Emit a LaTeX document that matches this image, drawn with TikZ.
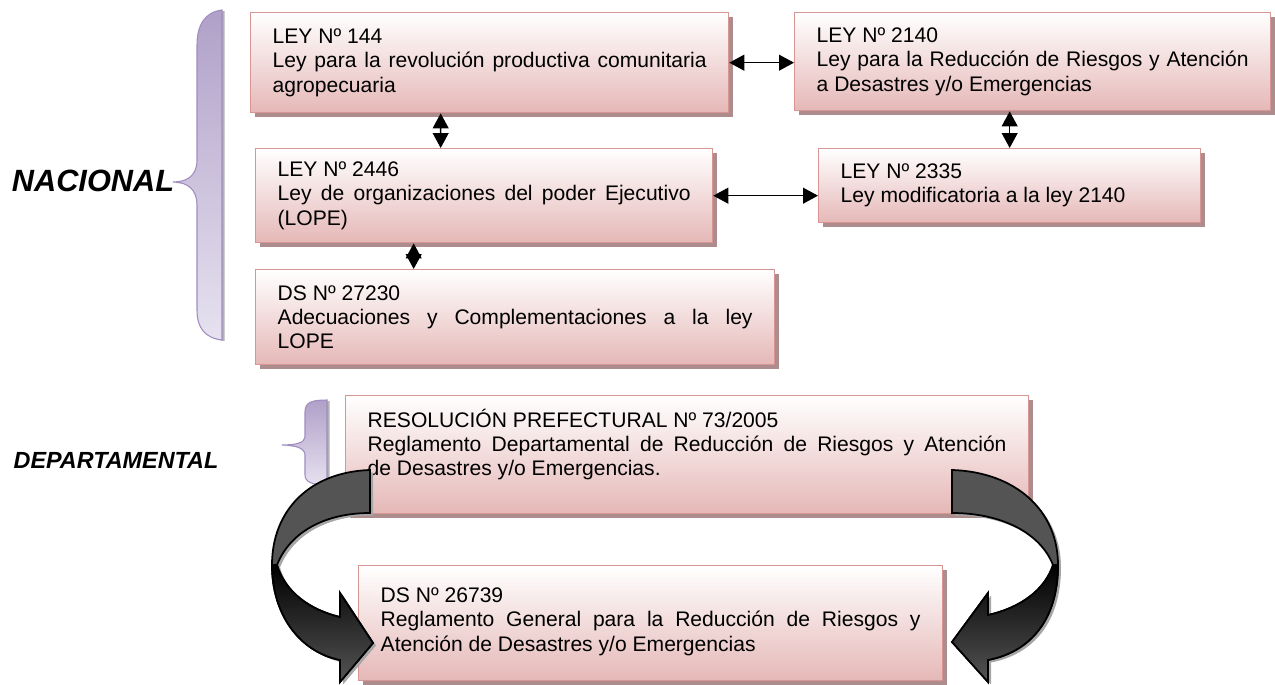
\documentclass[tikz,border=0pt]{standalone}
\usepackage{fontspec}
\setmainfont{Liberation Sans}
\usetikzlibrary{arrows.meta,shadows}
\hyphenpenalty=10000

\definecolor{boxline}{RGB}{217,149,148}
\definecolor{boxfill}{RGB}{229,184,183}
\definecolor{boxshadow}{RGB}{172,140,140}
\definecolor{bracetop}{RGB}{176,160,200}
\definecolor{bracebot}{RGB}{230,226,240}
\definecolor{braceline}{RGB}{160,140,192}
\definecolor{flowgray}{RGB}{84,84,84}

\tikzset{
  lawbox/.style={draw=boxline, line width=0.8pt, top color=white, bottom color=boxfill,
    drop shadow={shadow xshift=0.08cm, shadow yshift=-0.08cm, fill=boxshadow, opacity=1},
    anchor=north west, inner xsep=0.44cm, inner ysep=0.1cm, align=justify,
    font=\fontsize{12}{13.8}\selectfont},
  dbl/.style={<->, >={Triangle[length=8.5pt,width=9pt]}, line width=0.8pt},
  brace/.style={draw=braceline, line width=0.6pt, top color=bracetop, bottom color=bracebot,
    drop shadow={shadow xshift=0.05cm, shadow yshift=-0.02cm, fill=gray!60, opacity=1}},
  flow/.style={draw=black, line width=1pt, fill=flowgray,
    drop shadow={shadow xshift=0.06cm, shadow yshift=-0.05cm, fill=gray!70, opacity=1}},
  tier/.style={font=\fontsize{#1}{#1}\selectfont\bfseries\itshape}
}

\begin{document}
\begin{tikzpicture}[x=0.02cm, y=-0.02cm]
\useasboundingbox (0,0) rectangle (1275,685);

% national laws
\node[lawbox, text width=8.68cm, minimum height=2cm] (ley144) at (250,12)
  {LEY Nº 144\\Ley para la revolución productiva comunitaria agropecuaria};
\node[lawbox, text width=8.64cm, minimum height=1.96cm] (ley2140) at (794,12)
  {LEY Nº 2140\\Ley para la Reducción de Riesgos y Atención a Desastres y/o Emergencias};
\node[lawbox, text width=8.26cm, minimum height=1.88cm] (ley2446) at (255,148)
  {LEY Nº 2446\\Ley de organizaciones del poder Ejecutivo (LOPE)};
\node[lawbox, text width=6.76cm, minimum height=1.48cm] (ley2335) at (818,148)
  {LEY Nº 2335\\Ley modificatoria a la ley 2140};
\node[lawbox, text width=9.5cm, minimum height=1.9cm] (ds27230) at (255,269)
  {DS Nº 27230\\Adecuaciones y Complementaciones a la ley\linebreak LOPE};

% departmental
\node[lawbox, text width=12.78cm, minimum height=2.36cm] (res73) at (345,395)
  {RESOLUCIÓN PREFECTURAL Nº 73/2005\\Reglamento Departamental de Reducción de Riesgos y Atención\linebreak de Desastres y/o Emergencias.\rule[-0.5cm]{0pt}{0pt}};
\node[lawbox, text width=10.8cm, minimum height=2.3cm] (ds26739) at (358,565)
  {DS Nº 26739\\Reglamento General para la Reducción de Riesgos y\linebreak Atención de Desastres y/o Emergencias\rule[-0.15cm]{0pt}{0pt}};

% links
\draw[dbl] (ley144.east) -- (ley144.east -| ley2140.west);
\draw[dbl] ([xshift=-0.98cm]ley144.south) -- ([xshift=-0.87cm]ley2446.north);
\draw[dbl] (ley2335.north |- ley2140.south) -- (ley2335.north);
\draw[dbl] (ley2446.east) -- (ley2446.east -| ley2335.west);
\draw[dbl] ([xshift=-1.41cm]ley2446.south) -- ([xshift=-2.03cm]ds27230.north);

% braces
\path[brace] (222,10) .. controls (205,12) and (197,25) .. (197,45) -- (197,160)
  .. controls (197,175) and (188,182) .. (173,182)
  .. controls (188,182) and (197,190) .. (197,205) -- (197,310)
  .. controls (197,328) and (205,338) .. (222,340) -- cycle;
\path[brace] (327,400) .. controls (312,400) and (305,402) .. (305,412) -- (305,437)
  .. controls (305,443) and (295,445) .. (282,445)
  .. controls (295,445) and (305,448) .. (305,455) -- (305,475)
  .. controls (305,482) and (312,485) .. (327,485) -- cycle;

\node[tier=17.5] (nacional) at (93,181) {NACIONAL};
\node[tier=13.3] (departamental) at (116,460) {DEPARTAMENTAL};

% curved arrows
\draw[flow] (370,470) .. controls (310,472) and (272,510) .. (272,565)
  .. controls (272,615) and (300,652) .. (340,660) -- (340,682) -- (373,643)
  -- (340,593) -- (340,617) .. controls (310,610) and (285,592) .. (277,565)
  .. controls (290,532) and (325,513) .. (370,513) -- cycle;
\draw[line width=1pt, top color=black, bottom color=flowgray] (272,565)
  .. controls (272,615) and (300,652) .. (340,660) -- (340,682) -- (373,643)
  -- (340,593) -- (340,617) .. controls (310,610) and (285,592) .. (277,565) -- cycle;
\draw[flow] (952,470) .. controls (1015,472) and (1058,510) .. (1058,565)
  .. controls (1058,620) and (1030,652) .. (988,660) -- (988,682) -- (952,642)
  -- (988,593) -- (988,615) .. controls (1020,608) and (1045,590) .. (1053,565)
  .. controls (1040,532) and (1000,513) .. (952,513) -- cycle;
\draw[line width=1pt, top color=black, bottom color=flowgray] (1058,565)
  .. controls (1058,620) and (1030,652) .. (988,660) -- (988,682) -- (952,642)
  -- (988,593) -- (988,615) .. controls (1020,608) and (1045,590) .. (1053,565) -- cycle;

\end{tikzpicture}
\end{document}
